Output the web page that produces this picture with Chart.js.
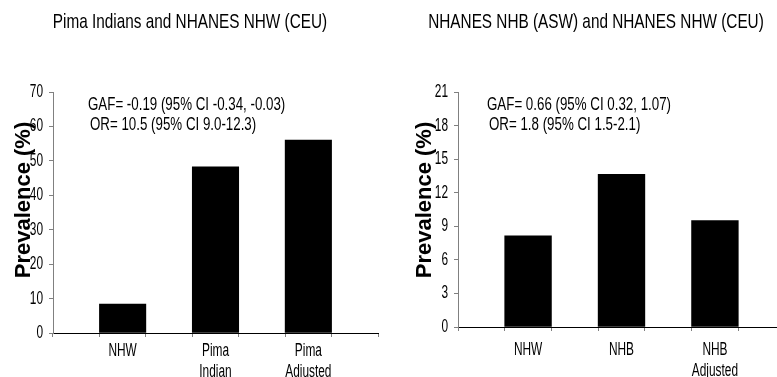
<!DOCTYPE html>
<html>
<head>
<meta charset="utf-8">
<script src="https://cdn.jsdelivr.net/npm/chart.js@4/dist/chart.umd.min.js"></script>
<style>
  html, body { margin: 0; padding: 0; background: #fff; overflow: hidden; }
  body { width: 777px; height: 377px; position: relative; }
  #left { position: absolute; left: 0; top: 0; }
  #right { position: absolute; left: 390px; top: 0; }
</style>
</head>
<body>
<canvas id="left" width="390" height="377"></canvas>
<canvas id="right" width="400" height="377"></canvas>
<script>
// left panel
const pimaCategories = ["NHW", ["Pima", "Indian"], ["Pima", "Adjusted"]];
const pimaValues = [8.4, 48.3, 56.0];
const pimaTicks = [0, 10, 20, 30, 40, 50, 60, 70];
const pimaTitle = "Pima Indians and NHANES NHW (CEU)";
const pimaNotes = ["GAF= -0.19 (95% CI -0.34, -0.03)", "OR= 10.5 (95% CI 9.0-12.3)"];

// right panel
const nhbCategories = ["NHW", "NHB", ["NHB", "Adjusted"]];
const nhbValues = [8.15, 13.65, 9.5];
const nhbTicks = [0, 3, 6, 9, 12, 15, 18, 21];
const nhbTitle = "NHANES NHB (ASW) and NHANES NHW (CEU)";
const nhbNotes = ["GAF= 0.66 (95% CI 0.32, 1.07)", "OR= 1.8 (95% CI 1.5-2.1)"];

const yTitle = "Prevalence (%)";
const FONT = "'Liberation Sans', Arial, sans-serif";

// bars sit in every other slot, with an empty slot before, between and after
function spread(arr, blank) {
  const out = [blank];
  arr.forEach(v => { out.push(v); out.push(blank); });
  return out;
}

// no narrow font installed, so squeeze the text sideways
function narrowText(ctx, text, x, y, align, squeeze) {
  ctx.save();
  ctx.translate(x, y);
  ctx.scale(squeeze, 1);
  ctx.textAlign = align;
  ctx.fillText(text, 0, 0);
  ctx.restore();
}

const textPlugin = {
  id: "texts",
  afterDraw(chart, args, o) {
    const ctx = chart.ctx;
    const a = chart.chartArea;
    const xs = chart.scales.x, ys = chart.scales.y;
    ctx.save();
    ctx.fillStyle = "#000";
    ctx.textBaseline = "middle";

    ctx.font = "21px " + FONT;
    narrowText(ctx, o.title, o.titleX, 22, "center", 0.73);

    ctx.font = "18px " + FONT;
    narrowText(ctx, o.notes[0], a.left + o.noteX, 105, "left", 0.74);
    narrowText(ctx, o.notes[1], a.left + o.noteX + 2, 125, "left", 0.74);

    // y tick labels
    ctx.font = "18px " + FONT;
    ys.ticks.forEach(t => {
      narrowText(ctx, String(t.value), a.left - 10, ys.getPixelForValue(t.value), "right", 0.66);
    });

    // category labels
    chart.data.labels.forEach((lab, i) => {
      if (!lab) return;
      const lines = Array.isArray(lab) ? lab : [lab];
      lines.forEach((line, j) => {
        narrowText(ctx, line, xs.getPixelForValue(i), o.labelY + j * 21, "center", 0.66);
      });
    });

    ctx.font = "bold 22px " + FONT;
    ctx.textAlign = "center";
    ctx.translate(o.yTitleX, 200);
    ctx.rotate(-Math.PI / 2);
    ctx.fillText(yTitle, 0, 0);
    ctx.restore();
  }
};

function makeChart(id, cats, vals, ticks, title, notes, p) {
  return new Chart(document.getElementById(id), {
    type: "bar",
    data: {
      labels: spread(cats, ""),
      datasets: [{
        data: spread(vals, null),
        backgroundColor: "#000",
        borderWidth: 0,
        barPercentage: 1,
        categoryPercentage: 1
      }]
    },
    options: {
      responsive: false,
      animation: false,
      events: [],
      layout: { padding: { top: 92, right: p.padRight, bottom: 0, left: 0 } },
      plugins: {
        legend: { display: false },
        tooltip: { enabled: false },
        texts: { title: title, titleX: p.titleX, notes: notes, noteX: p.noteX,
                 yTitleX: p.yTitleX, labelY: p.labelY }
      },
      scales: {
        x: {
          afterFit: s => { s.height = p.xHeight; },
          grid: { offset: true, drawOnChartArea: false, tickLength: 4, tickColor: "#808080" },
          border: { color: "#000", width: 1 },
          ticks: { display: false, autoSkip: false }
        },
        y: {
          min: ticks[0],
          max: ticks[ticks.length - 1],
          afterFit: s => { s.width = p.yWidth; },
          afterBuildTicks: s => { s.ticks = ticks.map(v => ({ value: v })); },
          grid: { drawOnChartArea: false, tickLength: 4, tickColor: "#808080" },
          border: { color: "#808080", width: 1 },
          ticks: { display: false }
        }
      }
    },
    plugins: [textPlugin]
  });
}

makeChart("left", pimaCategories, pimaValues, pimaTicks, pimaTitle, pimaNotes,
  { padRight: 12, titleX: 190, noteX: 35, yTitleX: 24, xHeight: 44, yWidth: 53, labelY: 351 });
makeChart("right", nhbCategories, nhbValues, nhbTicks, nhbTitle, nhbNotes,
  { padRight: 5, titleX: 206, noteX: 29, yTitleX: 35, xHeight: 50, yWidth: 68, labelY: 350 });
</script>
</body>
</html>
